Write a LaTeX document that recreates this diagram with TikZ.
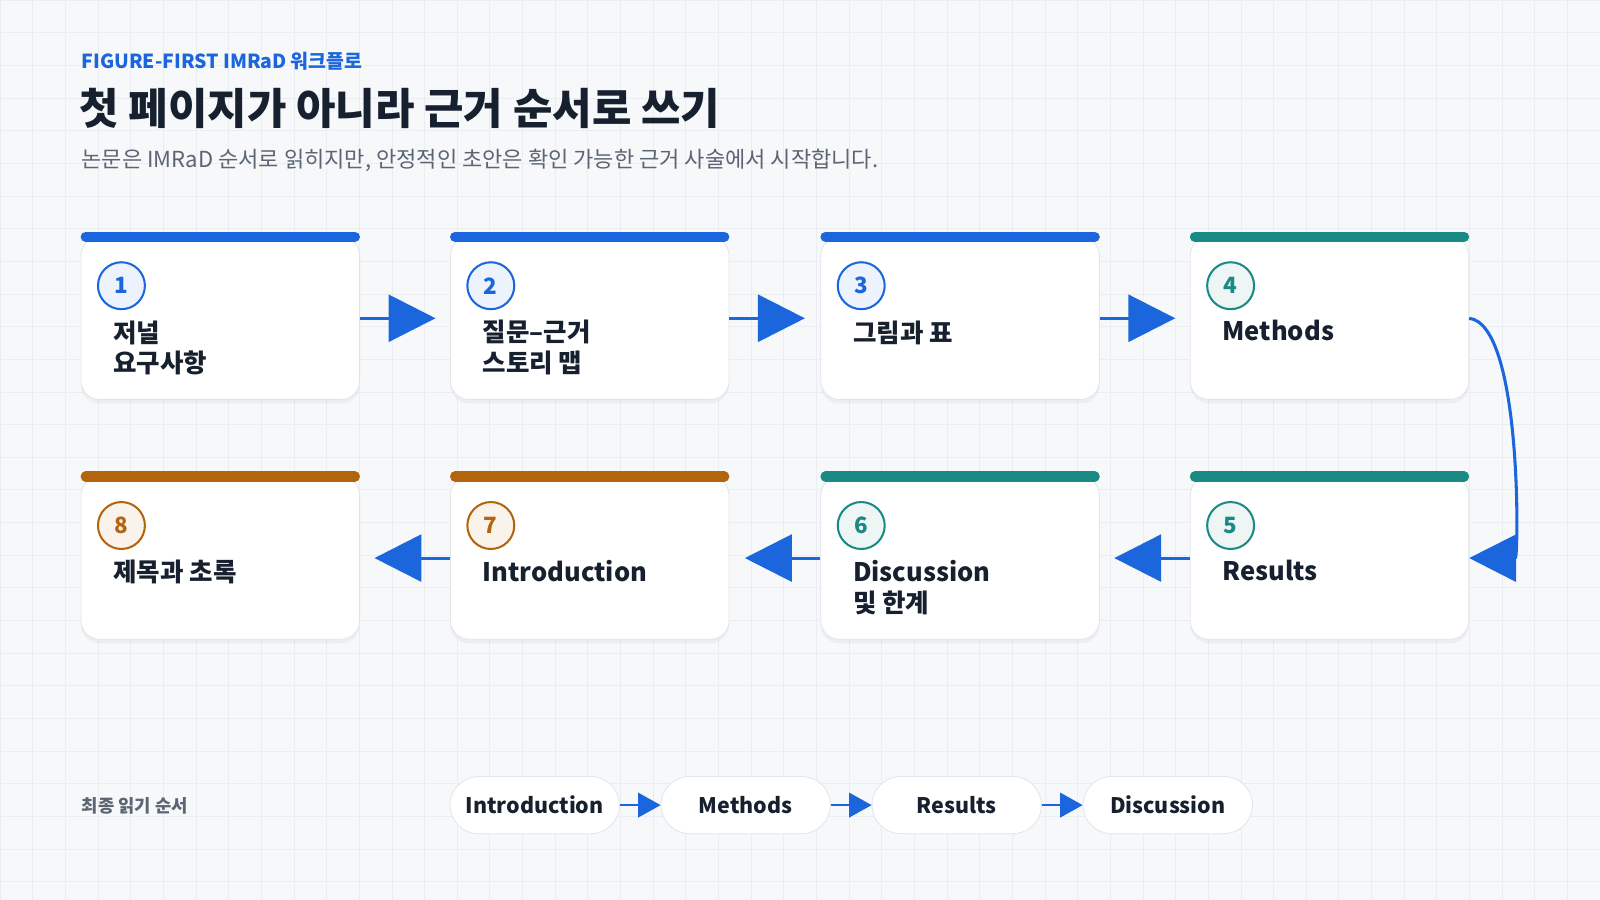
\documentclass[tikz,border=0pt]{standalone}
\usepackage{fontspec}
\setmainfont{Noto Sans CJK KR}
\usetikzlibrary{positioning,arrows.meta,shadows}
\definecolor{bg}{HTML}{F6F8FA}
\definecolor{gridc}{HTML}{EAEEF2}
\definecolor{flowblue}{HTML}{1B66DC}
\definecolor{flowteal}{HTML}{1A8A84}
\definecolor{flowbrown}{HTML}{B3650E}
\definecolor{ink}{HTML}{17202E}
\definecolor{subink}{HTML}{5B6573}
\definecolor{edgec}{HTML}{E1E6EC}
\tikzset{
  card/.style={draw=edgec, fill=white, rounded corners=9pt, minimum width=136.5pt, minimum height=79.5pt,
    drop shadow={shadow xshift=0pt, shadow yshift=-2pt, opacity=0.08}},
  bar/.style={line width=5pt, line cap=round},
  badge/.style={circle, draw=#1, line width=1pt, minimum size=23pt, inner sep=0pt, text=#1,
    font=\fontsize{11}{11}\selectfont\bfseries, fill=#1!8},
  lbl/.style={anchor=north west, align=left, text=ink, font=\fontsize{12.5}{15}\selectfont\bfseries},
  flow/.style={draw=flowblue, line width=1.5pt, -{Triangle[length=23pt,width=23pt]}},
  pill/.style={draw=edgec, fill=white, rounded corners=14pt, minimum width=83pt, minimum height=28pt,
    text=ink, font=\fontsize{10.5}{11}\selectfont\bfseries},
  small/.style={draw=flowblue, line width=1pt, -{Triangle[length=11pt,width=12pt]}}
}
\begin{document}
\begin{tikzpicture}[x=0.5pt,y=-0.5pt]
\useasboundingbox (0,0) rectangle (1568,882);
\fill[bg] (0,0) rectangle (1568,882);
\draw[gridc, line width=0.3pt, step=16pt] (0,0) grid (1568,882);

% heading
\node[anchor=west, text=flowblue, font=\fontsize{9.5}{10}\selectfont\bfseries] (kicker) at (73,60) {FIGURE-FIRST IMRaD 워크플로};
\node[anchor=west, text=ink, font=\fontsize{21}{24}\selectfont\bfseries] (title) at (71,106) {첫 페이지가 아니라 근거 순서로 쓰기};
\node[anchor=west, text=subink, font=\fontsize{10.8}{12}\selectfont] (sub) at (73,157) {논문은 IMRaD 순서로 읽히지만, 안정적인 초안은 확인 가능한 근거 사술에서 시작합니다.};

% cards
\foreach \i/\x/\y/\c/\t in {1/79/232/flowblue/{저널\\요구사항}, 2/441/232/flowblue/{질문–근거\\스토리 맵},
  3/804/232/flowblue/{그림과 표}, 4/1166/232/flowteal/{Methods},
  5/1166/467/flowteal/{Results}, 6/804/467/flowteal/{Discussion\\및 한계},
  7/441/467/flowbrown/{Introduction}, 8/79/467/flowbrown/{제목과 초록}} {
  \node[card, anchor=north west] (step\i) at (\x,\y) {};
  \draw[bar, \c] ([xshift=2.5pt]step\i.north west) -- ([xshift=-2.5pt]step\i.north east);
  \node[badge=\c] (num\i) at ([xshift=20pt,yshift=-24pt]step\i.north west) {\i};
  \node[lbl] (txt\i) at ([xshift=12.5pt,yshift=-37.5pt]step\i.north west) {\t};
}

% connectors
\draw[flow] (step1.east) -- ([xshift=37pt]step1.east);
\draw[flow] (step2.east) -- ([xshift=37pt]step2.east);
\draw[flow] (step3.east) -- ([xshift=37pt]step3.east);
\draw[flow] (step4.east) .. controls (1492,318) and (1488,547) .. (step5.east);
\draw[flow] (step5.west) -- ([xshift=-37pt]step5.west);
\draw[flow] (step6.west) -- ([xshift=-37pt]step6.west);
\draw[flow] (step7.west) -- ([xshift=-37pt]step7.west);

% reading order
\node[anchor=west, text=subink, font=\fontsize{8.7}{10}\selectfont\bfseries] (order) at (73,790) {최종 읽기 순서};
\node[pill] (pIntro) at (524,789) {Introduction};
\node[pill, right=20pt of pIntro] (pMeth) {Methods};
\node[pill, right=20pt of pMeth] (pRes) {Results};
\node[pill, right=20pt of pRes] (pDisc) {Discussion};
\draw[small] (pIntro) -- (pMeth);
\draw[small] (pMeth) -- (pRes);
\draw[small] (pRes) -- (pDisc);
\end{tikzpicture}
\end{document}
